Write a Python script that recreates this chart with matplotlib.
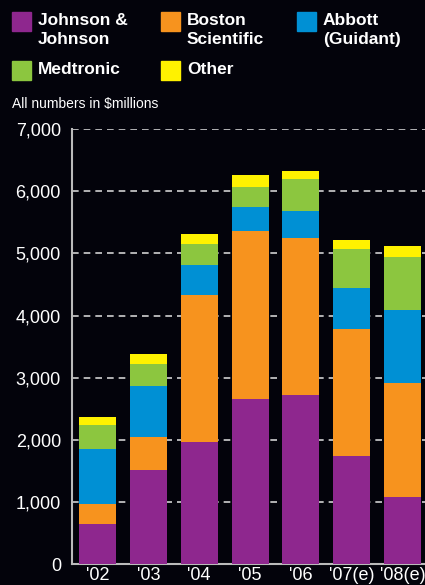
import numpy as np
import matplotlib.pyplot as plt
from matplotlib.patches import Rectangle

plt.rcParams['font.family'] = ['Liberation Sans', 'DejaVu Sans']

# values in $millions
years = ["'02", "'03", "'04", "'05", "'06", "'07(e)", "'08(e)"]
jnj = [650, 1520, 1970, 2660, 2720, 1740, 1080]
boston = [320, 530, 2360, 2700, 2530, 2040, 1830]
abbott = [880, 820, 480, 390, 430, 660, 1180]
medtronic = [390, 350, 340, 320, 510, 630, 850]
other = [130, 160, 160, 190, 130, 140, 180]

series = [jnj, boston, abbott, medtronic, other]
names = ["Johnson &\nJohnson", "Boston\nScientific", "Abbott\n(Guidant)", "Medtronic", "Other"]
colors = ["#8e278e", "#f7931e", "#0090d4", "#8cc63f", "#fff200"]
bg = "#03030b"

fig = plt.figure(figsize=(4.25, 5.85), dpi=100, facecolor=bg)
ax = fig.add_axes([72/425, 20.7/585, 1 - 72/425, (564.3-129)/585], facecolor=bg)

x = np.arange(len(years))
bottom = np.zeros(len(years))
for vals, c in zip(series, colors):
    ax.bar(x, vals, width=0.727, bottom=bottom, color=c, zorder=3)
    bottom += np.array(vals)

ax.set_ylim(0, 7000)
ax.set_xlim(-0.5, 6.44)
ax.set_yticks(range(0, 7001, 1000))
ax.set_yticklabels([f"{v:,}" for v in range(0, 7001, 1000)])
ax.set_xticks(x)
ax.set_xticklabels(years)
ax.tick_params(axis='y', length=0, pad=8, labelsize=13, labelcolor='white')
ax.tick_params(axis='x', length=0, pad=2, labelsize=13, labelcolor='white')
ax.yaxis.grid(True, color='#d0d0d0', linestyle=(0, (4, 3)), linewidth=1.2, zorder=0)
for s in ['top', 'right']:
    ax.spines[s].set_visible(False)
for s in ['left', 'bottom']:
    ax.spines[s].set_color('#bbbbbb')
    ax.spines[s].set_linewidth(1.5)

# legend drawn by hand
pos = [(12, 12), (161, 12), (297, 12), (12, 61), (161, 61)]
for (px, py), name, c in zip(pos, names, colors):
    fig.patches.append(Rectangle((px/425, 1 - (py+19)/585), 19/425, 19/585,
                                 transform=fig.transFigure, color=c))
    fig.text((px+26)/425, 1 - (py+1)/585, name, color='white', fontsize=12.5,
             fontweight='bold', va='top', ha='left', linespacing=1.35)

fig.text(12/425, 1 - 104/585, "All numbers in $millions", color='white',
         fontsize=10, va='center', ha='left')

plt.savefig("out.png", facecolor=bg)
